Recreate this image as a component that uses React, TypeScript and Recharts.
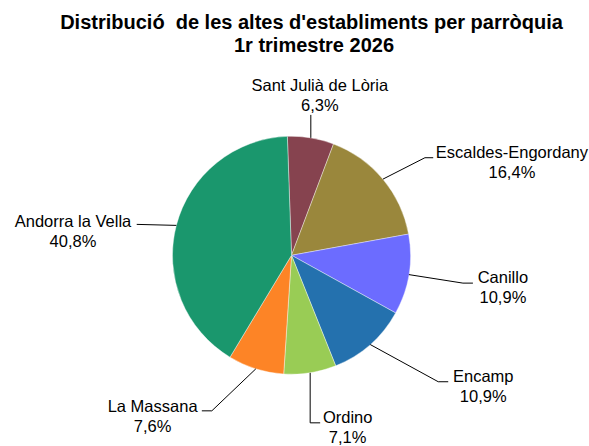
import React from 'react';
import { PieChart, Pie, Cell } from 'recharts';

const parishes = [
  'Sant Julià de Lòria',
  'Escaldes-Engordany',
  'Canillo',
  'Encamp',
  'Ordino',
  'La Massana',
  'Andorra la Vella',
];
const shares = [6.3, 16.4, 10.9, 10.9, 7.1, 7.6, 40.8];
const colors = ['#86434f', '#9a873c', '#6c6cff', '#2471ae', '#99cc55', '#fd8426', '#1a976d'];
const titleLines = ["Distribució  de les altes d'establiments per parròquia", '1r trimestre 2026'];

// label layout: elbow offset from slice edge, horizontal tail, text offset from tail end
const elbows: [number, number][] = [[0, -23], [42, -21.4], [54, 8.5], [68, 37.2], [0, 50], [-44, 42], [-39.6, -1]];
const tails = [0, 8.3, 10, 10, 10, -10, 0];
const textOffsets: [number, number][] = [[9, -24.3], [78.7, 0], [30, 0], [35, 0], [27.5, 0.6], [-49.2, 1], [-63.7, 2.4]];

const data = parishes.map((name, i) => ({ name, value: shares[i] }));

const RAD = Math.PI / 180;
const FONT = '"Liberation Sans", Arial, sans-serif';

const renderLabel = (props: any) => {
  const { cx, cy, midAngle, outerRadius, index, name, value } = props;
  const ex = cx + Math.cos(-midAngle * RAD) * outerRadius;
  const ey = cy + Math.sin(-midAngle * RAD) * outerRadius;
  const bx = ex + elbows[index][0];
  const by = ey + elbows[index][1];
  const tx = bx + tails[index];
  const ty = by;
  const lx = tx + textOffsets[index][0];
  const ly = ty + textOffsets[index][1];
  return (
    <g key={`lbl-${index}`}>
      <polyline points={`${ex},${ey} ${bx},${by} ${tx},${ty}`} fill="none" stroke="#000" strokeWidth={1} />
      <text x={lx} y={ly} textAnchor="middle" fontFamily={FONT} fontSize={16.5} fill="#000">
        <tspan x={lx} y={ly}>{name}</tspan>
        <tspan x={lx} y={ly + 20}>{value.toFixed(1).replace('.', ',') + '%'}</tspan>
      </text>
    </g>
  );
};

export default function App() {
  return (
    <div style={{ position: 'absolute', left: 0, top: 0, width: 589, height: 446, background: '#fff' }}>
      <PieChart width={589} height={446} margin={{ top: 0, right: 0, bottom: 0, left: 0 }}>
        <Pie
          data={data}
          dataKey="value"
          nameKey="name"
          cx={291.5}
          cy={255.3}
          outerRadius={119}
          startAngle={92}
          endAngle={-268}
          stroke="#ffffff"
          strokeWidth={0.4}
          label={renderLabel}
          labelLine={false}
          isAnimationActive={false}
        >
          {data.map((d, i) => (
            <Cell key={d.name} fill={colors[i]} />
          ))}
        </Pie>
      </PieChart>
      <svg width={589} height={60} style={{ position: 'absolute', left: 0, top: 0 }}>
        <text x={311.5} y={29.3} textAnchor="middle" fontFamily={FONT} fontWeight="bold" fontSize={20} fill="#000" xmlSpace="preserve" style={{ whiteSpace: 'pre' }}>
          {titleLines[0]}
        </text>
        <text x={314} y={51.7} textAnchor="middle" fontFamily={FONT} fontWeight="bold" fontSize={20} fill="#000">
          {titleLines[1]}
        </text>
      </svg>
    </div>
  );
}
